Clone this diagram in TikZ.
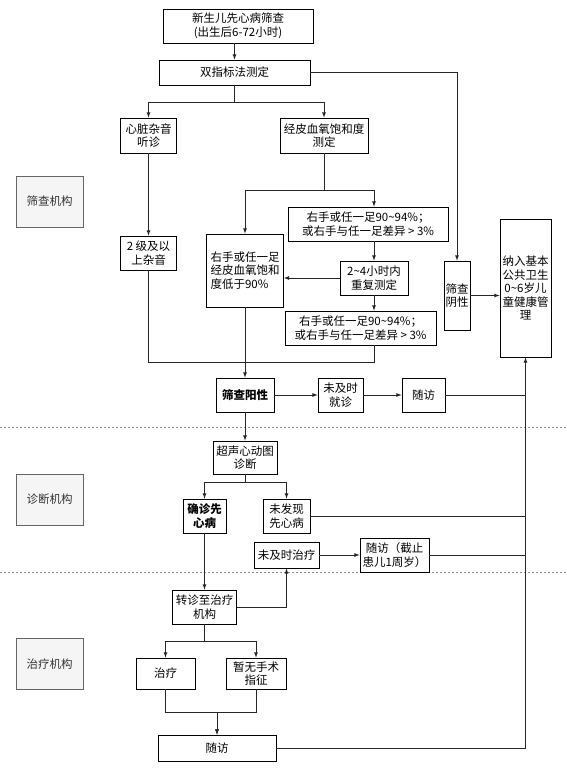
\documentclass[tikz,border=0pt]{standalone}
\usepackage{fontspec}
\setmainfont{Noto Sans CJK SC}
\newcommand{\tl}{\textasciitilde}
\begin{document}
\begin{tikzpicture}[x=1pt,y=-1pt,>=latex,
  box/.style={draw, line width=0.8pt, align=center, inner sep=1pt, font=\fontsize{11.5}{13.5}\selectfont},
  side/.style={draw=black!60, fill=black!4, text=black!80, line width=0.8pt, minimum width=67pt, minimum height=51pt, font=\fontsize{11.5}{13.5}\selectfont},
  line/.style={draw, line width=0.8pt, black!85},
  sep/.style={draw, black!45, line width=0.8pt, dash pattern=on 2pt off 2pt}]
\useasboundingbox (0,0) rectangle (566,781);

% left column
\node[side] (L1) at (49.5,201.5) {筛查机构};
\node[side] (L2) at (49.5,499.5) {诊断机构};
\node[side] (L3) at (49.5,664) {治疗机构};
\path[sep] (0,427) -- (566,427);
\path[sep] (0,572) -- (566,572);

% screening
\node[box, minimum width=150pt, minimum height=34pt] (1) at (238,26) {新生儿先心病筛查\\(出生后6-72小时)};
\node[box, minimum width=151pt, minimum height=25pt] (2) at (234.5,72.5) {双指标法测定};
\node[box, minimum width=56pt, minimum height=35pt] (3) at (148.5,135.5) {心脏杂音\\听诊};
\node[box, minimum width=88pt, minimum height=35pt] (4) at (324,135.5) {经皮血氧饱和度\\测定};
\node[box, minimum width=56pt, minimum height=34pt] (5) at (148.5,253) {2 级及以\\上杂音};
\node[box, minimum width=77pt, minimum height=73pt, align=left] (6) at (245,270.5) {右手或任一足\\经皮血氧饱和\\度低于90\%};
\node[box, minimum width=160pt, minimum height=34pt] (7) at (368,224) {右手或任一足90\tl94\%；\\或右手与任一足差异 > 3\%};
\node[box, minimum width=68pt, minimum height=34pt] (8) at (374,278) {2\tl4小时内\\重复测定};
\node[box, minimum width=151pt, minimum height=34pt] (9) at (360.5,328) {右手或任一足90\tl94\%；\\或右手与任一足差异 > 3\%};
\node[box, minimum width=26pt, minimum height=69pt, inner sep=0pt] (10) at (457,295.5) {筛查\\阴性};
\node[box, minimum width=51pt, minimum height=138pt, inner sep=0pt] (11) at (525.5,288) {纳入基本\\公共卫生\\0\tl6岁儿\\童健康管\\理};
\node[box, minimum width=58pt, minimum height=34pt, font=\fontsize{11.5}{13.5}\selectfont\bfseries] (12) at (245,395) {筛查阳性};
\node[box, minimum width=45pt, minimum height=34pt] (13) at (340.5,395) {未及时\\就诊};
\node[box, minimum width=43pt, minimum height=34pt] (14) at (423.5,395) {随访};

% diagnosis
\node[box, minimum width=64pt, minimum height=33pt] (15) at (245,457.5) {超声心动图\\诊断};
\node[box, minimum width=43pt, minimum height=34pt, font=\fontsize{11.5}{13.5}\selectfont\bfseries] (16) at (204.5,516) {确诊先\\心病};
\node[box, minimum width=47pt, minimum height=34pt] (17) at (286.5,516) {未发现\\先心病};
\node[box, minimum width=65pt, minimum height=26pt] (18) at (286.5,555) {未及时治疗};
\node[box, minimum width=69pt, minimum height=34pt] (19) at (394.5,555) {随访（截止\\患儿1周岁）};

% treatment
\node[box, minimum width=64pt, minimum height=34pt] (20) at (204.5,607) {转诊至治疗\\机构};
\node[box, minimum width=59pt, minimum height=31pt] (21) at (165.5,673.5) {治疗};
\node[box, minimum width=60pt, minimum height=31pt] (22) at (256,673.5) {暂无手术\\指征};
\node[box, minimum width=118pt, minimum height=26pt] (23) at (217,748) {随访};

\path[line,->] (2.north |- 1.south) -- (2.north);
\path[line,->] (2.south) -- ++(0,17) -| (3.north);
\path[line,->] (2.south) -- ++(0,17) -| (4.north);
\path[line,->] (2.east) -| (10.north);
\path[line,->] (3.south) -- (5.north);
\path[line,->] (4.south) -- ++(0,37) -| (6.north);
\path[line,->] (4.south) -- ++(0,37) -| (7.north -| 8.north);
\path[line,->] (7.south -| 8.north) -- (8.north);
\path[line,->] (8.west) -- (8.west -| 6.east);
\path[line,->] (8.south) -- (8.south |- 9.north);
\path[line] (5.south) -- ++(0,92) -| (9.south -| 8.south);
\path[line,->] (6.south) -- (12.north);
\path[line,->] (10.east) -- (10.east -| 11.west);
\path[line,->] (12.east) -- (13.west);
\path[line,->] (13.east) -- (14.west);
\path[line] (14.east) -- (14.east -| 11.south);
\path[line,->] (12.south) -- (15.north);
\path[line,->] (15.south) -- ++(0,8) -| (16.north);
\path[line,->] (15.south) -- ++(0,8) -| (17.north);
\path[line] (17.east) -- (17.east -| 11.south);
\path[line,->] (16.south) -- (20.north);
\path[line,->] (20.east) -| (18.south);
\path[line,->] (18.east) -- (19.west);
\path[line] (19.east) -- (19.east -| 11.south);
\path[line,->] (20.south) -- ++(0,17) -| (21.north);
\path[line,->] (20.south) -- ++(0,17) -| (22.north);
\path[line,->] (21.south) -- ++(0,23) -| (23.north);
\path[line,->] (22.south) -- ++(0,23) -| (23.north);
\path[line,->] (23.east) -| (11.south);
\end{tikzpicture}
\end{document}
